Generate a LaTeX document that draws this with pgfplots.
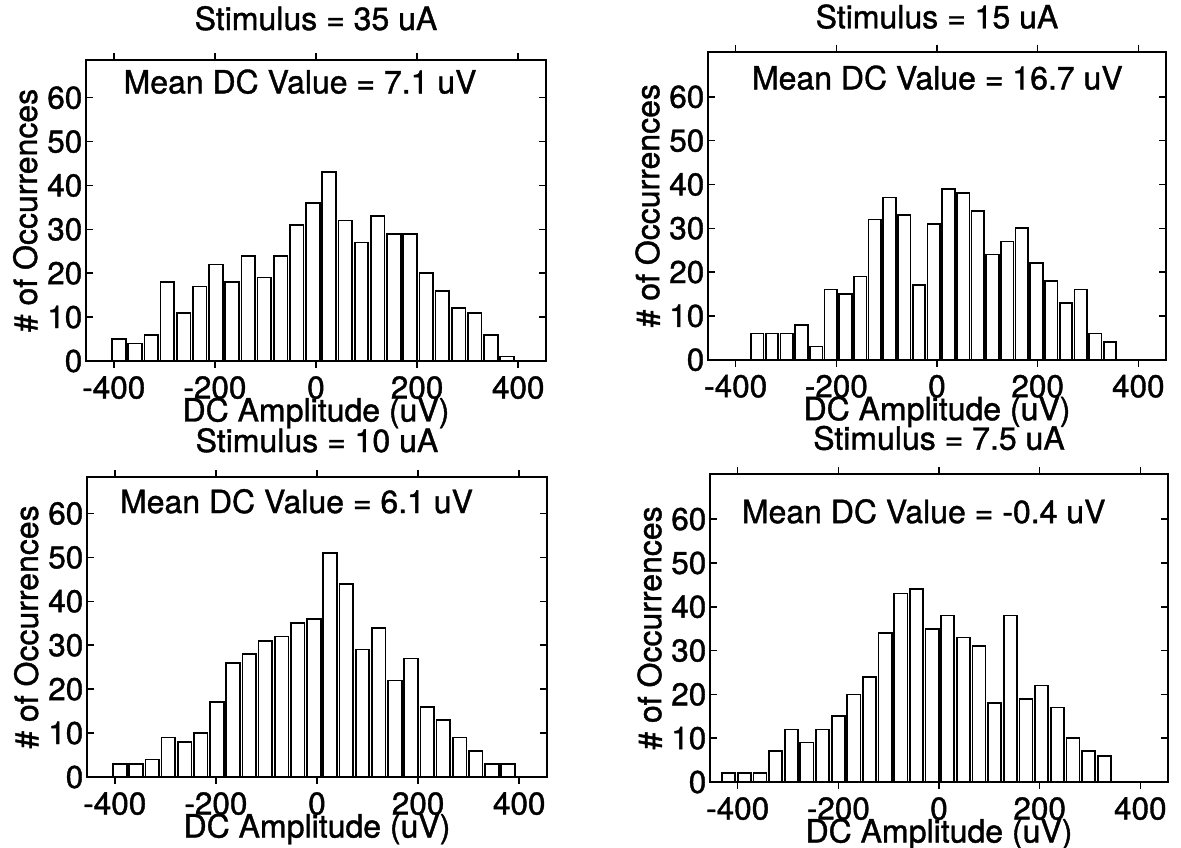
\documentclass[border=0pt]{standalone}
\usepackage{fontspec}
\setmainfont{TeX Gyre Heros}[FakeBold=1.2]
\usepackage{pgfplots}
\pgfplotsset{compat=1.18}
\pgfplotsset{
 hist/.style={
  scale only axis, anchor=north west,
  xmin=-455, xmax=455, ymin=0,
  xtick={-400,-200,0,200,400}, xticklabels={-400,-200,0,200,400},
  ytick={0,10,...,60}, yticklabels={0,10,20,30,40,50,60},
  tick align=inside, major tick length=7pt,
  axis line style={line width=2.2pt},
  every tick/.style={line width=1.5pt, black},
  tick label style={font=\fontsize{31.5}{31.5}\selectfont, inner sep=0pt},
  xticklabel style={anchor=north, yshift=-8pt},
  yticklabel style={anchor=east, xshift=-3.5pt},
  label style={font=\fontsize{32}{32}\selectfont},
  title style={font=\fontsize{32}{32}\selectfont, at={(axis description cs:0.5,1)}, anchor=base, inner sep=0pt},
  xlabel style={at={(axis description cs:0.5,0)}, anchor=base, yshift=-60.5pt, inner sep=0pt},
  xlabel={DC Amplitude (uV)}, ylabel={\# of Occurrences},
  ybar,
 },
}
\tikzset{
 meantext/.style={anchor=base west, font=\fontsize{32}{32}\selectfont, inner sep=0pt},
 histbar/.style={draw=black, fill=white, line width=1.7pt},
}
\begin{document}
\begin{tikzpicture}
\path[use as bounding box] (0,0) rectangle (1181pt,-848pt);
% top left
\begin{axis}[hist, at={(86pt,-60pt)}, width=460pt, height=301pt, ymax=68.6,
  title={Stimulus = 35 uA}, title style={yshift=24pt},
  ylabel style={at={(axis description cs:-0.132,0.5)}, anchor=center, inner sep=0pt}, bar width=27]
\addplot[histbar] coordinates {(-390,5) (-358,4) (-326,6) (-294,18) (-262,11) (-230,17) (-198,22) (-166,18) (-134,24) (-102,19) (-70,24) (-38,31) (-6,36) (26,43) (58,32) (90,27) (122,33) (154,29) (186,29) (218,20) (250,16) (282,12) (314,11) (346,6) (378,1)};
\node[meantext] at (axis cs:-381,61) {Mean DC Value = 7.1 uV};
\end{axis}
% top right
\begin{axis}[hist, at={(708pt,-51.7pt)}, width=458pt, height=308pt, ymax=70.3,
  title={Stimulus = 15 uA}, title style={yshift=17.4pt},
  ylabel style={at={(axis description cs:-0.132,0.5)}, anchor=center, inner sep=0pt}, bar width=25]
\addplot[histbar] coordinates {(-357,6) (-327.8,6) (-298.6,6) (-269.4,8) (-240.2,3) (-211,16) (-181.8,15) (-152.6,19) (-123.4,32) (-94.2,37) (-65,33) (-35.8,17) (-6.6,31) (22.6,39) (51.8,38) (81,34) (110.2,24) (139.4,27) (168.6,30) (197.8,22) (227,18) (256.2,13) (285.4,16) (314.6,6) (343.8,4)};
\node[meantext] at (axis cs:-368,61.7) {Mean DC Value = 16.7 uV};
\end{axis}
% bottom left
\begin{axis}[hist, at={(87pt,-477pt)}, width=460pt, height=300pt, ymax=68.3,
  title={Stimulus = 10 uA}, title style={yshift=19pt},
  ylabel style={at={(axis description cs:-0.132,0.5)}, anchor=center, inner sep=0pt}, bar width=27]
\addplot[histbar] coordinates {(-390,3) (-358,3) (-326,4) (-294,9) (-262,8) (-230,10) (-198,17) (-166,26) (-134,28) (-102,31) (-70,32) (-38,35) (-6,36) (26,51) (58,44) (90,29) (122,34) (154,22) (186,27) (218,16) (250,13) (282,9) (314,6) (346,3) (378,3)};
\node[meantext] at (axis cs:-390,60.1) {Mean DC Value = 6.1 uV};
\end{axis}
% bottom right
\begin{axis}[hist, at={(710pt,-474pt)}, width=458pt, height=308pt, ymax=70.3,
  title={Stimulus = 7.5 uA}, title style={yshift=18.3pt},
  ylabel style={at={(axis description cs:-0.132,0.5)}, anchor=center, inner sep=0pt}, bar width=26]
\addplot[histbar] coordinates {(-418,2) (-386.9,2) (-355.8,2) (-324.7,7) (-293.6,12) (-262.5,9) (-231.4,12) (-200.3,15) (-169.2,20) (-138.1,24) (-107,34) (-75.9,43) (-44.8,44) (-13.7,35) (17.4,38) (48.5,33) (79.6,31) (110.7,18) (141.8,38) (172.9,19) (204,22) (235.1,17) (266.2,10) (297.3,7) (328.4,6)};
\node[meantext] at (axis cs:-392,59.1) {Mean DC Value = -0.4 uV};
\end{axis}
\end{tikzpicture}
\end{document}
